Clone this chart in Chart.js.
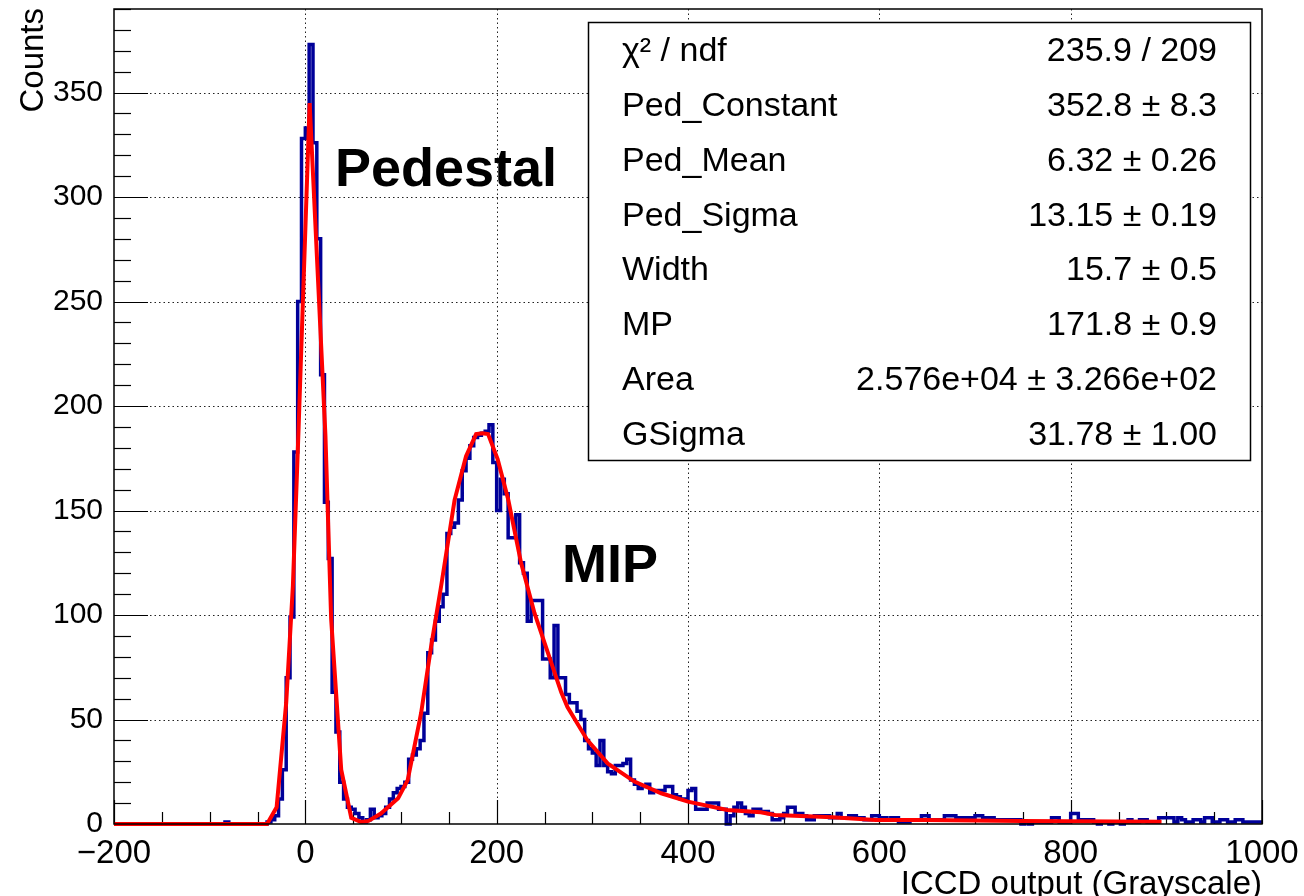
<!DOCTYPE html>
<html>
<head>
<meta charset="utf-8">
<title>ICCD output</title>
<script src="https://cdn.jsdelivr.net/npm/chart.js@4.4.1/dist/chart.umd.min.js"></script>
<style>
  html, body { margin: 0; padding: 0; background: #fff; }
  #wrap { width: 1304px; height: 896px; }
</style>
</head>
<body>
<div id="wrap"><canvas id="c" width="1304" height="896"></canvas></div>
<script>
/* ICCD pedestal + MIP spectrum, ROOT-style histogram with fit */

// histogram: 300 bins of width 4, starting at -200
const BIN_START = -200;
const BIN_WIDTH = 4;
const counts = [].concat(
  // -200 .. -104
  [0,0,0,0,0, 0,0,0,0,0, 0,0,0,0,0, 0,0,0,0,0, 0,0,0,0,0],
  // -100 .. -4
  [0,0,0,0,1, 0,0,0,0,0, 0,0,0,0,0, 1,2,4,12,26, 70,99,178,250,328],
  // 0 .. 96
  [333,373,326,280,215, 154,127,63,44,20, 12,8,7,5,3, 1,2,7,3,4, 5,8,12,15,17],
  // 100 .. 196
  [18,20,31,33,36, 40,53,82,88,97, 104,110,139,142,144, 155,169,175,181,185, 186,187,188,191,173],
  // 200 .. 296
  [150,165,158,137,137, 148,125,120,97,107, 107,107,79,79,70, 95,70,70,62,58, 58,54,50,40,36],
  // 300 .. 396
  [34,28,40,28,25, 24,28,28,29,31, 21,19,17,18,19, 15,16,16,16,18, 18,14,13,12,12],
  // 400 .. 496
  [16,17,7,7,7, 10,10,10,7,7, 0,4,8,10,8, 5,4,7,7,6, 6,5,2,2,3],
  // 500 .. 596
  [5,8,8,5,5, 4,2,2,4,4, 4,4,3,3,5, 3,3,4,4,3, 3,2,2,4,4],
  // 600 .. 696
  [3,3,2,3,3, 1,1,1,2,2, 2,4,4,2,2, 2,2,4,4,4, 3,3,3,3,3],
  // 700 .. 796
  [4,4,3,3,3, 2,2,2,2,2, 2,2,0,1,0, 1,1,1,1,1, 3,3,1,1,1],
  // 800 .. 896
  [5,5,2,2,2, 2,1,0,1,1, 0,1,1,0,1, 2,1,1,2,2, 1,1,1,3,3],
  // 900 .. 996
  [3,3,1,3,2, 1,1,2,2,1, 3,3,1,1,2, 2,1,1,2,2, 1,1,1,1,1]
);

// fit curve (pedestal gaussian + Landau x Gauss)
const fitX = [-200, -40, -30, -20, -13, -7, 4.5, 21, 27, 37.5, 48, 58, 66, 79, 87, 97, 107, 121, 131.5, 142, 156, 168, 178.5, 185, 191, 201, 212, 225.5, 239.5, 253.5, 267.5, 274, 295, 316, 344, 372, 400, 441, 476, 491, 551, 596, 650, 748, 895];
const fitY = [0, 0, 8, 58, 114, 190, 345, 186, 98, 26, 3, 1, 1.5, 5, 8.3, 12.3, 21, 53, 85, 114, 155, 176, 186.6, 187, 186.6, 174.6, 155.4, 125, 101, 82, 63, 56, 40, 29, 20.3, 14.7, 10.7, 6.7, 5.6, 4.3, 3.2, 1.9, 1.9, 1.4, 1.1];

// fit results box
const statNames = ["\u03c7\u00b2 / ndf", "Ped_Constant", "Ped_Mean", "Ped_Sigma", "Width", "MP", "Area", "GSigma"];
const statValues = ["235.9 / 209", "352.8 \u00b1 8.3", "6.32 \u00b1 0.26", "13.15 \u00b1 0.19", "15.7 \u00b1 0.5", "171.8 \u00b1 0.9", "2.576e+04 \u00b1 3.266e+02", "31.78 \u00b1 1.00"];

const X_MIN = -200, X_MAX = 1000, Y_MAX = 390;
const xMajor = [-200, 0, 200, 400, 600, 800, 1000];
const yMajor = [0, 50, 100, 150, 200, 250, 300, 350];

const FONT = '"Liberation Sans", Arial, Helvetica, sans-serif';

// build step points: one point per bin low edge + closing edge
const histPts = counts.map((c, i) => ({ x: BIN_START + i * BIN_WIDTH, y: c }));
histPts.push({ x: BIN_START + counts.length * BIN_WIDTH, y: counts[counts.length - 1] });
const fitPts = fitX.map((x, i) => ({ x, y: fitY[i] }));

function line(ctx, x1, y1, x2, y2) {
  ctx.beginPath(); ctx.moveTo(x1, y1); ctx.lineTo(x2, y2); ctx.stroke();
}

const rootStyle = {
  id: "rootStyle",
  beforeDatasetsDraw(chart) {
    const ctx = chart.ctx, a = chart.chartArea;
    const sx = chart.scales.x, sy = chart.scales.y;
    ctx.save();
    // dotted grid
    ctx.strokeStyle = "#222";
    ctx.lineWidth = 1;
    ctx.setLineDash([1.5, 3]);
    xMajor.slice(1, -1).forEach(v => {
      const px = Math.round(sx.getPixelForValue(v)) + 0.5;
      line(ctx, px, a.top, px, a.bottom);
    });
    yMajor.slice(1).forEach(v => {
      const py = Math.round(sy.getPixelForValue(v)) + 0.5;
      line(ctx, a.left, py, a.right, py);
    });
    ctx.setLineDash([]);
    // tick marks, inside the frame
    ctx.strokeStyle = "#000";
    ctx.lineWidth = 1.2;
    for (let v = X_MIN; v <= X_MAX; v += 50) {
      const px = Math.round(sx.getPixelForValue(v)) + 0.5;
      const len = v % 200 === 0 ? 24 : 12;
      line(ctx, px, a.bottom, px, a.bottom - len);
    }
    for (let v = 0; v <= Y_MAX; v += 10) {
      const py = Math.round(sy.getPixelForValue(v)) + 0.5;
      const len = v % 50 === 0 ? 34 : 17;
      line(ctx, a.left, py, a.left + len, py);
    }
    ctx.restore();
  },
  afterDatasetsDraw(chart) {
    const ctx = chart.ctx, a = chart.chartArea;
    ctx.save();
    // frame
    ctx.strokeStyle = "#000";
    ctx.lineWidth = 1.5;
    ctx.strokeRect(a.left, a.top, a.right - a.left, a.bottom - a.top);

    // stats box
    const bx = 588, by = 22, bw = 662, bh = 438;
    ctx.fillStyle = "#fff";
    ctx.fillRect(bx, by, bw, bh);
    ctx.strokeRect(bx + 0.5, by + 0.5, bw, bh);
    ctx.fillStyle = "#000";
    ctx.font = "34px " + FONT;
    ctx.textBaseline = "alphabetic";
    const rowH = bh / statNames.length;
    statNames.forEach((name, i) => {
      const yb = by + rowH * (i + 0.5) + 12;
      ctx.textAlign = "left";
      ctx.fillText(name, 622, yb);
      ctx.textAlign = "right";
      ctx.fillText(statValues[i], 1217, yb);
    });

    // peak labels
    ctx.font = "bold 54px " + FONT;
    ctx.textAlign = "left";
    ctx.fillText("Pedestal", 335, 186);
    ctx.fillText("MIP", 562, 582);

    // axis titles
    ctx.font = "33px " + FONT;
    ctx.textAlign = "right";
    ctx.fillText("ICCD output (Grayscale)", a.right, 894);
    ctx.translate(43, a.top - 1);
    ctx.rotate(-Math.PI / 2);
    ctx.textAlign = "right";
    ctx.fillText("Counts", 0, 0);
    ctx.restore();
  }
};

new Chart(document.getElementById("c"), {
  type: "scatter",
  data: {
    datasets: [
      {
        label: "fit",
        data: fitPts,
        showLine: true,
        borderColor: "#ff0000",
        borderWidth: 4,
        pointRadius: 0,
        tension: 0,
        clip: 6,
        order: 1
      },
      {
        label: "ICCD",
        data: histPts,
        showLine: true,
        stepped: "before",
        borderColor: "#000099",
        borderWidth: 3.5,
        borderJoinStyle: "miter",
        pointRadius: 0,
        clip: 6,
        order: 2
      }
    ]
  },
  options: {
    responsive: false,
    animation: false,
    devicePixelRatio: 1,
    layout: { padding: { left: 0, right: 42, top: 9, bottom: 0 } },
    plugins: { legend: { display: false }, tooltip: { enabled: false } },
    scales: {
      x: {
        type: "linear",
        min: X_MIN,
        max: X_MAX,
        afterBuildTicks: s => { s.ticks = xMajor.map(v => ({ value: v })); },
        afterFit: s => { s.height = 72; s.paddingLeft = 0; s.paddingRight = 0; },
        grid: { display: false, drawTicks: false },
        border: { display: false },
        ticks: {
          padding: 10,
          maxRotation: 0,
          color: "#000",
          font: { family: FONT, size: 33 },
          callback: v => (v < 0 ? "\u2212" + Math.abs(v) : String(v))
        }
      },
      y: {
        type: "linear",
        min: 0,
        max: Y_MAX,
        afterBuildTicks: s => { s.ticks = yMajor.map(v => ({ value: v })); },
        afterFit: s => { s.width = 114; s.paddingTop = 0; s.paddingBottom = 0; },
        grid: { display: false, drawTicks: false },
        border: { display: false },
        ticks: {
          padding: 11,
          color: "#000",
          font: { family: FONT, size: 30 }
        }
      }
    }
  },
  plugins: [rootStyle]
});
</script>
</body>
</html>
